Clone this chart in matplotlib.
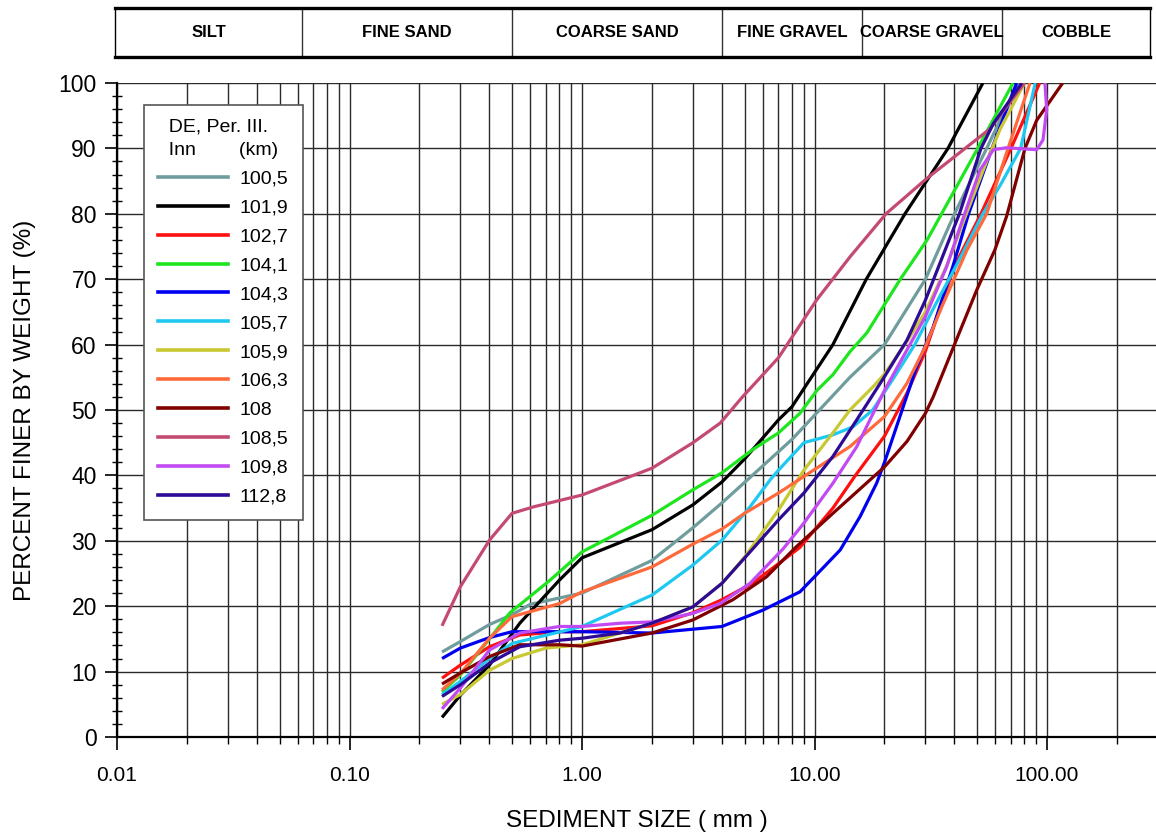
import numpy as np
import matplotlib
matplotlib.use("Agg")
import matplotlib.pyplot as plt
from matplotlib.ticker import FixedLocator, FixedFormatter, MultipleLocator, NullFormatter
from matplotlib.lines import Line2D

plt.rcParams['font.family'] = ['Liberation Sans', 'DejaVu Sans']

# ---------------- data (sediment size mm, percent finer) ----------------
labels = ["100,5", "101,9", "102,7", "104,1", "104,3", "105,7",
          "105,9", "106,3", "108", "108,5", "109,8", "112,8"]
colors = ["#6f9c9c", "#000000", "#ff1010", "#1ee61e", "#0000f0", "#1ec8f0",
          "#c8c832", "#ff6a3c", "#800000", "#c44a72", "#c24af2", "#2d0b96"]

size_100_5 = [0.25, 0.3, 0.4, 0.5, 0.6, 1, 2, 3, 4, 5.4, 8, 10.5, 14.2, 20, 30, 40, 55, 75]
pct_100_5 = [13, 14.6, 17.2, 18.7, 20.3, 22, 27, 32, 35.8, 40, 45.5, 50, 55, 60, 70, 80, 90, 100]

size_101_9 = [0.25, 0.3, 0.4, 0.54, 0.8, 1, 2, 3, 4, 5, 7, 8, 12, 16.7, 24.5, 37.5, 53]
pct_101_9 = [3, 6.4, 11, 17.4, 24, 27.4, 31.7, 35.5, 39, 42.5, 48.5, 50.5, 60, 70, 80, 90, 100]

size_102_7 = [0.25, 0.3, 0.4, 0.54, 0.8, 1, 2, 3, 4, 5.4, 7, 8.66, 12, 15, 20, 25, 30, 35, 40, 52, 70, 93]
pct_102_7 = [9, 11, 13.8, 15.6, 16.1, 16.1, 17, 19, 21, 23.5, 26.5, 29, 35, 40, 46, 52.6, 59, 66, 72, 80, 90, 100]

size_104_1 = [0.25, 0.3, 0.4, 0.49, 0.73, 1, 2, 3, 4, 5.4, 7, 8.66, 10.25, 12, 14.2, 16.8, 23.3, 30.5, 50, 71.4]
pct_104_1 = [6.9, 9.5, 15, 19, 24, 28.3, 33.9, 37.8, 40.4, 43.9, 46.5, 49.5, 53, 55.4, 58.9, 61.8, 69.9, 76, 89.8, 100]

size_104_3 = [0.25, 0.3, 0.4, 0.5, 1, 2, 4, 6, 8.66, 10, 12.9, 15.7, 18.5, 20, 23.3, 27.5, 32.4, 39.4, 46, 58, 74]
pct_104_3 = [12, 13.6, 15.2, 16.1, 16.1, 15.9, 16.9, 19.4, 22.2, 24.5, 28.6, 33.7, 38.8, 42, 49, 56.6, 62.7, 72, 80, 90, 100]

size_105_7 = [0.25, 0.3, 0.4, 0.5, 1, 2, 3, 4, 5.28, 6.44, 7, 9, 12, 14.6, 17.8, 22, 27, 33, 42, 53, 63, 77, 89]
pct_105_7 = [6.5, 8.5, 12, 14.3, 16.9, 21.7, 26.3, 30.1, 35.2, 39.3, 40.8, 45, 46.2, 47.4, 50, 55, 60, 66, 73, 80, 84.4, 90, 100]

size_105_9 = [0.25, 0.3, 0.4, 0.5, 0.7, 1, 2, 3, 4, 5, 7, 9, 12, 14.2, 17.8, 20, 25, 30, 37, 45, 55, 63, 80]
pct_105_9 = [5, 6.5, 10.2, 12, 13.6, 14.1, 17.4, 19.9, 23.5, 27.5, 34.7, 40.8, 46.5, 50, 53.5, 55.5, 60.5, 65, 72, 80, 88, 93, 100]

size_106_3 = [0.25, 0.3, 0.4, 0.5, 0.8, 1, 2, 3, 4, 5, 7, 9.9, 14.2, 20, 25, 30, 35.3, 45.3, 55, 68, 84.5]
pct_106_3 = [7.2, 9.7, 15.1, 18.4, 20.4, 22.2, 26, 29.5, 31.8, 34.2, 37.3, 40.8, 44.4, 49, 54.1, 59.7, 65.8, 74.5, 80, 90, 100]

size_108 = [0.25, 0.3, 0.4, 0.54, 0.8, 1, 2, 3, 4.46, 6.22, 8.3, 12, 20, 25, 30, 32.4, 40.2, 49.8, 59.7, 67, 80.4, 90.3, 116.8]
pct_108 = [8.1, 9.8, 12.3, 14.1, 14.1, 13.9, 15.9, 17.9, 21, 24.5, 29, 34.2, 41.3, 45.2, 49.5, 52, 60.2, 68.3, 74.5, 79.6, 90, 94.3, 100]

size_108_5 = [0.25, 0.3, 0.4, 0.5, 0.62, 1, 2, 3, 3.93, 4.9, 7, 10.2, 14.2, 20.3, 30.4, 56.9, 80]
pct_108_5 = [17, 23, 30.1, 34.2, 35.2, 37, 41.1, 45, 48, 52, 58, 66.8, 73.4, 80, 85.4, 93, 100]

size_109_8 = [0.25, 0.3, 0.4, 0.54, 0.8, 1, 1.46, 2, 3, 3.93, 5.28, 7.34, 9, 12, 15.2, 20, 25, 30, 37,
              42.3, 51.5, 58.8, 67, 90.3, 96.1, 99.7, 98]
pct_109_8 = [4.3, 7.5, 13.3, 15.9, 16.9, 16.9, 17.4, 17.6, 18.9, 20.4, 23.5, 28.8, 32.7, 38.8, 44.4, 53, 59.2, 64.3, 71.9,
             78, 86.7, 89.8, 90.1, 89.8, 91.3, 95.9, 100]

size_112_8 = [0.25, 0.3, 0.4, 0.54, 0.8, 1, 1.46, 2, 3, 4, 5.5, 7, 9, 12, 15.2, 20, 25, 30, 36.5, 42, 52, 58.8, 78]
pct_112_8 = [6.2, 8, 11.3, 13.8, 14.8, 15.1, 15.9, 17.4, 19.9, 23.5, 29, 33.2, 37.3, 42.9, 48.5, 55.1, 60.7, 66.8, 74.5, 80, 90, 93.8, 100]

sizes = [size_100_5, size_101_9, size_102_7, size_104_1, size_104_3, size_105_7,
         size_105_9, size_106_3, size_108, size_108_5, size_109_8, size_112_8]
pcts = [pct_100_5, pct_101_9, pct_102_7, pct_104_1, pct_104_3, pct_105_7,
        pct_105_9, pct_106_3, pct_108, pct_108_5, pct_109_8, pct_112_8]

xtick_vals = [0.01, 0.1, 1, 10, 100]
xtick_labels = ["0.01", "0.10", "1.00", "10.00", "100.00"]

band_names = ["SILT", "FINE SAND", "COARSE SAND", "FINE GRAVEL", "COARSE GRAVEL", "COBBLE"]
band_bounds = [0.0625, 0.5, 4, 16, 64]

# ---------------- layout ----------------
W, H = 1156, 834
fig = plt.figure(figsize=(W / 100, H / 100), dpi=100)

DEC = 232.5          # pixels per decade
X0 = 117             # pixel of 0.01 mm
def px_to_mm(px):
    return 10 ** (-2 + (px - X0) / DEC)

ax_l, ax_r, ax_b, ax_t = 117, 1156, 737, 83
ax = fig.add_axes([ax_l / W, 1 - ax_b / H, (ax_r - ax_l) / W, (ax_b - ax_t) / H])
ax.set_xscale('log')
ax.set_xlim(0.01, px_to_mm(ax_r))
ax.set_ylim(0, 100)

for s, p, c in zip(sizes, pcts, colors):
    ax.plot(s, p, color=c, lw=2.3, solid_joinstyle='round', solid_capstyle='butt', zorder=3)

# grid
ax.xaxis.set_major_locator(FixedLocator(xtick_vals))
ax.xaxis.set_major_formatter(FixedFormatter(xtick_labels))
minor = [m * 10.0 ** e for e in range(-2, 3) for m in range(2, 10)]
ax.xaxis.set_minor_locator(FixedLocator(minor))
ax.xaxis.set_minor_formatter(NullFormatter())
ax.yaxis.set_major_locator(MultipleLocator(10))
ax.yaxis.set_minor_locator(MultipleLocator(2))
ax.grid(True, axis='x', which='both', color='#2a2a2a', lw=1.0, zorder=1)
ax.grid(True, axis='y', which='major', color='#2a2a2a', lw=1.0, zorder=1)

for sp in ['top', 'right']:
    ax.spines[sp].set_visible(False)
ax.spines['left'].set_linewidth(1.6)
ax.spines['bottom'].set_linewidth(1.6)

ax.tick_params(axis='x', which='major', direction='out', length=9, width=1.2, pad=12, labelsize=15)
ax.tick_params(axis='x', which='minor', direction='out', length=5, width=1.0)
ax.tick_params(axis='y', which='major', direction='out', length=8.5, width=1.2, pad=6, labelsize=16.5)
ax.tick_params(axis='y', which='minor', direction='inout', length=7, width=1.0)

ax.set_xlabel("SEDIMENT SIZE ( mm )", fontsize=17.5, labelpad=18)
ax.set_ylabel("PERCENT FINER BY WEIGHT (%)", fontsize=17.5, labelpad=16)

# legend
handles = [Line2D([], [], color=c, lw=2.6) for c in colors]
leg = ax.legend(handles, labels, loc='upper left',
                bbox_to_anchor=((144 - ax_l) / (ax_r - ax_l), (ax_b - 105) / (ax_b - ax_t)),
                borderaxespad=0, title="  DE, Per. III.\n  Inn        (km)", fontsize=14, title_fontsize=14,
                frameon=True, fancybox=False, edgecolor='#555555', framealpha=1,
                handlelength=3.6, handletextpad=0.6, labelspacing=0.58, borderpad=0.72, alignment='left')
leg.get_title().set_linespacing(1.45)
leg.get_frame().set_linewidth(1.2)
leg.set_zorder(5)

# top band of size classes
b_l, b_r, b_t, b_b = 115, 1150, 8, 57
bx = fig.add_axes([b_l / W, 1 - b_b / H, (b_r - b_l) / W, (b_b - b_t) / H])
bx.set_xscale('log')
lo, hi = px_to_mm(b_l), px_to_mm(b_r)
bx.set_xlim(lo, hi)
bx.set_ylim(0, 1)
bx.set_xticks([])
bx.set_yticks([])
bx.xaxis.set_minor_locator(FixedLocator([]))
for sp in ['top', 'bottom']:
    bx.spines[sp].set_linewidth(2.4)
for sp in ['left', 'right']:
    bx.spines[sp].set_linewidth(1.0)
for b in band_bounds:
    bx.axvline(b, color='#333333', lw=1.0)
edges = [lo] + band_bounds + [hi]
for i, name in enumerate(band_names):
    xc = np.sqrt(edges[i] * edges[i + 1])
    bx.text(xc, 0.5, name, ha='center', va='center', fontsize=12, fontweight='bold')

fig.savefig("out.png", dpi=100)
